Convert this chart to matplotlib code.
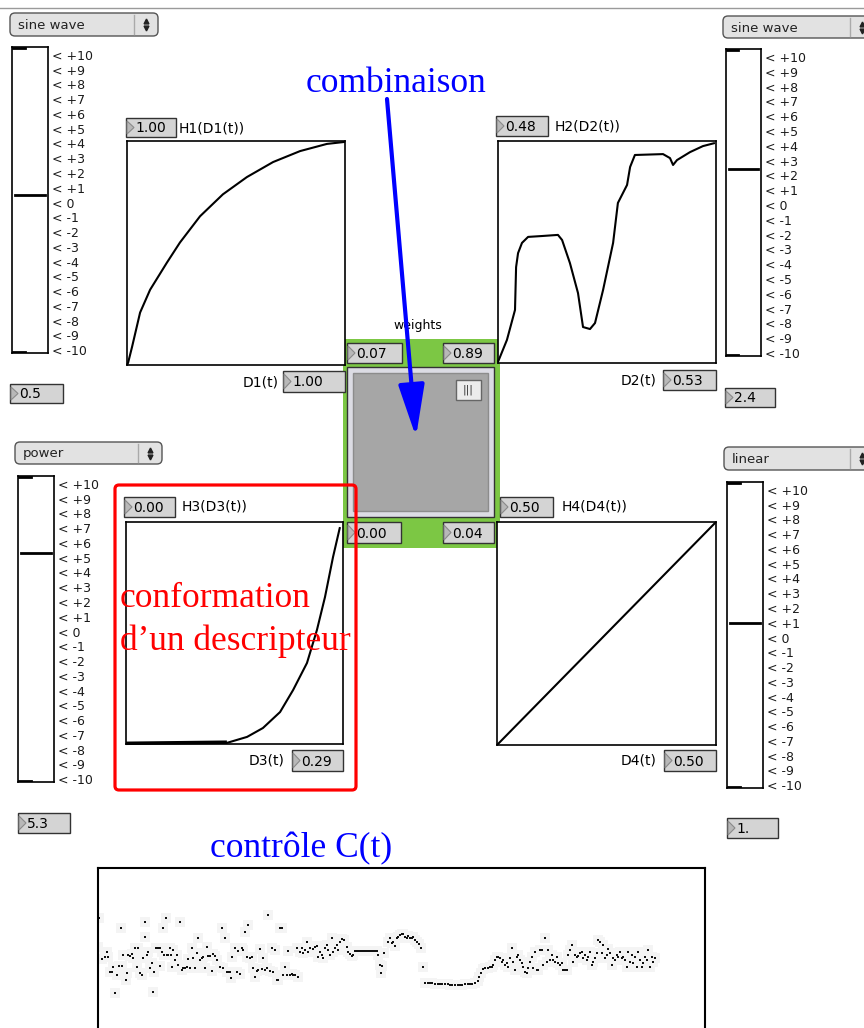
import matplotlib
matplotlib.use("Agg")
import matplotlib.pyplot as plt
from matplotlib.patches import Rectangle, FancyBboxPatch, Polygon

# ---- data ----
# transfer curves H_i(D_i(t)), both axes 0..1
h1_x = [0.0, 0.005, 0.023, 0.06, 0.106, 0.183, 0.243, 0.335, 0.44, 0.55, 0.67, 0.794, 0.917, 1.0]
h1_y = [0.0, 0.01, 0.08, 0.234, 0.336, 0.457, 0.547, 0.664, 0.762, 0.839, 0.906, 0.955, 0.987, 0.996]

h2_x = [0.0, 0.041, 0.078, 0.083, 0.092, 0.110, 0.138, 0.202, 0.275, 0.294, 0.330, 0.367, 0.390,
        0.422, 0.445, 0.482, 0.528, 0.550, 0.592, 0.606, 0.628, 0.757, 0.789, 0.803, 0.821,
        0.881, 0.940, 0.995]
h2_y = [0.005, 0.104, 0.239, 0.432, 0.495, 0.541, 0.568, 0.572, 0.577, 0.554, 0.450, 0.315, 0.162,
        0.153, 0.180, 0.329, 0.541, 0.721, 0.802, 0.883, 0.937, 0.941, 0.923, 0.892, 0.914,
        0.950, 0.977, 0.991]

h3_x = [0.0, 0.465, 0.558, 0.631, 0.710, 0.770, 0.834, 0.880, 0.917, 0.954, 0.986]
h3_y = [0.0, 0.005, 0.032, 0.072, 0.144, 0.243, 0.365, 0.514, 0.662, 0.842, 0.977]

h4_x = [0.0, 1.0]
h4_y = [0.0, 1.0]

# slider settings and numbers shown
slider_values = [0.5, 2.4, 5.3, 1.0]
slider_texts = ["0.5", "2.4", "5.3", "1."]
menu_texts = ["sine wave", "sine wave", "power", "linear"]
levels = list(range(10, -11, -1))
level_labels = ["< +%d" % v if v > 0 else "< %d" % v for v in levels]

h_values = ["1.00", "0.48", "0.00", "0.50"]
d_values = ["1.00", "0.53", "0.29", "0.50"]
h_names = ["H1(D1(t))", "H2(D2(t))", "H3(D3(t))", "H4(D4(t))"]
d_names = ["D1(t)", "D2(t)", "D3(t)", "D4(t)"]
weights = ["0.07", "0.89", "0.00", "0.04"]

# control signal C(t): frame index, level
ct_t = [1, 0, 4, 7, 9, 10, 12, 14, 15, 17, 19, 21, 23, 24, 25, 28, 29, 30, 32, 34, 35, 37, 39, 40,
        42, 44, 45, 47, 47, 49, 50, 52, 54, 55, 56, 58, 60, 62, 62, 64, 65, 66, 68, 69, 70, 72,
        73, 74, 75, 77, 79, 80, 82, 84, 85, 87, 89, 90, 92, 94, 95, 97, 99, 100, 102, 104, 105,
        107, 109, 110, 112, 114, 115, 117, 119, 122, 124, 125, 127, 129, 130, 132, 133, 134, 137,
        139, 140, 142, 144, 145, 147, 149, 150, 152, 154, 155, 157, 159, 160, 162, 164, 165, 167,
        169, 170, 172, 174, 175, 177, 179, 180, 182, 184, 185, 187, 189, 190, 192, 194, 195, 197,
        199, 200,
        202, 204, 205, 207, 209, 210, 212, 215, 217, 219, 220, 222, 224, 225, 227, 229, 230, 232,
        234, 235, 237, 239, 240, 242, 244, 246, 249, 250, 252, 254, 255,
        257, 259, 261, 263, 265, 267, 269, 271, 273, 275, 277, 279,
        280, 282, 283, 284, 286, 290, 292, 294, 295, 297, 299, 300, 302, 304, 305, 307, 309, 310,
        312, 314, 315, 317, 319, 321, 323, 325,
        327, 330, 332, 334, 337, 340, 342, 344, 347, 350, 352, 354, 357, 360, 362, 364, 367, 370,
        372, 374, 377, 380, 381, 383, 385, 387, 390, 392, 394, 395, 397, 399,
        400, 402, 404, 405, 407, 409, 410, 412, 414, 415, 417, 419, 420, 422, 424, 425, 427, 429,
        430, 432, 434, 435, 437, 439, 440, 442, 444, 445, 447, 449, 450, 452, 454, 455, 457, 459,
        460, 462, 464, 465, 467, 469, 470, 472, 474, 475, 477, 479, 480, 482, 484, 485, 487, 489,
        490, 492, 494, 495, 497, 499, 500, 502, 504, 505, 507, 509, 510, 512, 514, 515, 517, 519,
        520, 522, 524, 525, 527, 529, 530, 532, 534, 535, 537, 539, 540, 542, 544, 545, 547, 549,
        550, 552, 554, 555, 557]
ct_c = [110, 81, 69, 71, 76, 71, 56, 56, 61, 35, 53, 62, 100, 62, 73, 48, 55, 73, 72, 74, 70, 80,
        61, 80, 55, 53, 70, 91, 106, 73, 76, 60, 65, 36, 56, 80, 80, 80, 62, 76, 100, 73, 110, 73,
        73, 80, 73, 61, 78, 68, 73, 63, 106, 58, 60, 60, 61, 69, 60, 80, 70, 60, 75, 90, 68, 70,
        71, 60, 81, 72, 72, 57, 74, 72, 68, 61, 100, 60, 90, 56, 56, 56, 50, 71, 80, 56, 77, 54,
        80, 78, 96, 71, 103, 70, 71, 60, 51, 57, 58, 79, 59, 70, 58, 60, 113, 57, 80, 56, 78, 48,
        48, 100, 100, 53, 61, 53, 77, 53, 54, 53, 53, 80, 51,
        76, 80, 75, 78, 86, 76, 80, 79, 81, 82, 71, 76, 73, 70, 80, 83, 78, 73, 90, 76, 80, 83,
        78, 86, 89, 88, 81, 76, 74, 72, 73,
        77, 77, 77, 77, 77, 77, 77, 77, 77, 77, 77, 77,
        73, 63, 55, 62, 75, 86, 90, 85, 86, 82, 90, 91, 93, 94, 94, 91, 90, 92, 90, 90, 91, 88,
        86, 84, 80, 61,
        45, 45, 45, 45, 44, 44, 44, 44, 44, 44, 43, 43, 43, 43, 43, 43, 44, 44, 44, 44, 45, 47,
        51, 55, 59, 60, 60, 61, 61, 63, 68, 71,
        71, 70, 66, 68, 63, 65, 61, 70, 80, 66, 58, 71, 73, 68, 65, 61, 56, 55, 60, 66, 71, 60,
        76, 58, 58, 78, 78, 63, 90, 66, 78, 68, 73, 68, 66, 71, 65, 63, 65, 58, 58, 58, 73, 78,
        83, 66, 73, 71, 72, 75, 76, 70, 73, 68, 71, 76, 63, 66, 70, 75, 88, 86, 75, 83, 70, 73,
        79, 75, 63, 70, 68, 73, 71, 76, 70, 71, 68, 61, 76, 66, 73, 65, 71, 61, 76, 68, 61, 65,
        71, 68, 78, 61, 71, 66, 70]

# ---- figure in screen pixels ----
W, H = 864, 1028
fig = plt.figure(figsize=(W / 100, H / 100), dpi=100)
fig.patch.set_facecolor("white")


def px_ax(x0, y0, x1, y1):
    return fig.add_axes([x0 / W, 1 - y1 / H, (x1 - x0) / W, (y1 - y0) / H])


bg = px_ax(0, 0, W, H)
bg.set_xlim(0, W)
bg.set_ylim(H, 0)
bg.axis("off")

bg.plot([0, W], [8, 8], color="#9a9a9a", lw=1)


def numbox(x0, y0, x1, y1, txt):
    bg.add_patch(Rectangle((x0, y0), x1 - x0, y1 - y0, fc="#d4d4d4", ec="#333333", lw=1, zorder=3))
    ym = (y0 + y1) / 2
    bg.add_patch(Polygon([(x0 + 1, y0 + 3), (x0 + 8, ym), (x0 + 1, y1 - 3)], closed=True,
                         fc="#b8b8b8", ec="#8a8a8a", lw=0.8, zorder=4))
    bg.text(x0 + 9, ym + 1, txt, ha="left", va="center", fontsize=10, zorder=5)


def menu(x0, y0, x1, y1, txt):
    bg.add_patch(FancyBboxPatch((x0, y0), x1 - x0, y1 - y0,
                                boxstyle="round,pad=0,rounding_size=5",
                                fc="#e2e2e2", ec="#555555", lw=1))
    ym = (y0 + y1) / 2
    bg.plot([x1 - 24, x1 - 24], [y0 + 2, y1 - 2], color="#aaaaaa", lw=1)
    bg.plot([x1 - 12], [ym - 3.5], marker="^", ms=3.5, color="#222222")
    bg.plot([x1 - 12], [ym + 3.5], marker="v", ms=3.5, color="#222222")
    bg.text(x0 + 8, ym + 1, txt, ha="left", va="center", fontsize=9.5, color="#222222")


def slider(x0, y0, x1, y1, val):
    ax = px_ax(x0, y0, x1, y1)
    ax.set_xlim(0, 1)
    ax.set_ylim(-10.2, 10.54)
    ax.axhline(val, xmin=0.08, xmax=0.92, color="black", lw=2)
    ax.plot([0.04, 0.35], [10.5, 10.5], color="black", lw=2)
    ax.plot([0.04, 0.35], [-10.16, -10.16], color="black", lw=2)
    ax.set_xticks([])
    ax.yaxis.tick_right()
    ax.set_yticks(levels)
    ax.set_yticklabels(level_labels, fontsize=9, color="#1a1a1a")
    ax.tick_params(axis="y", length=0, pad=3)
    for s in ax.spines.values():
        s.set_linewidth(1.2)
    return ax


def curve_box(x0, y0, x1, y1, xs, ys):
    ax = px_ax(x0, y0, x1, y1)
    ax.set_xlim(0, 1)
    ax.set_ylim(0, 1)
    ax.plot(xs, ys, color="black", lw=1.5, solid_capstyle="butt", clip_on=False)
    ax.set_xticks([])
    ax.set_yticks([])
    for s in ax.spines.values():
        s.set_linewidth(1.2)
    return ax


# menus
menu(10, 13, 158, 36, menu_texts[0])
menu(723, 16, 874, 38, menu_texts[1])
menu(15, 442, 162, 464, menu_texts[2])
menu(724, 447, 874, 470, menu_texts[3])

# sliders
slider(12, 47, 48, 353, slider_values[0])
slider(726, 49, 761, 356, slider_values[1])
slider(18, 476, 54, 782, slider_values[2])
slider(727, 482, 763, 788, slider_values[3])

numbox(10, 384, 63, 403, slider_texts[0])
numbox(725, 388, 775, 407, slider_texts[1])
numbox(18, 813, 70, 833, slider_texts[2])
numbox(727, 818, 778, 838, slider_texts[3])

# weights panel
bg.add_patch(Rectangle((343, 339), 157, 209, fc="#7cc744", ec="none"))
bg.text(418, 326, "weights", ha="center", va="center", fontsize=9)
bg.add_patch(Rectangle((347, 367), 147, 150, fc="#dcdce4", ec="#333333", lw=1))
bg.add_patch(Rectangle((353, 373), 135, 138, fc="#a6a6a6", ec="#8c8c8c", lw=1))
bg.add_patch(Rectangle((456, 380), 25, 20, fc="#ececec", ec="#666666", lw=1))
bg.text(468.5, 390, "|||", ha="center", va="center", fontsize=8, color="#333333")
numbox(347, 343, 402, 363, weights[0])
numbox(443, 343, 494, 363, weights[1])
numbox(347, 522, 401, 543, weights[2])
numbox(443, 522, 494, 543, weights[3])

# the four transfer boxes
curve_box(127, 141, 345, 365, h1_x, h1_y)
curve_box(498, 141, 716, 363, h2_x, h2_y)
ax3 = curve_box(126, 522, 343, 744, h3_x, h3_y)
ax3.plot(h3_x[:2], h3_y[:2], color="black", lw=3.5, solid_capstyle="butt")
curve_box(497, 522, 716, 745, h4_x, h4_y)

numbox(126, 118, 176, 137, h_values[0])
bg.text(179, 128, h_names[0], ha="left", va="center", fontsize=10)
numbox(283, 371, 345, 392, d_values[0])
bg.text(279, 382, d_names[0], ha="right", va="center", fontsize=10)

numbox(496, 116, 548, 136, h_values[1])
bg.text(555, 127, h_names[1], ha="left", va="center", fontsize=10)
numbox(663, 370, 716, 390, d_values[1])
bg.text(656, 381, d_names[1], ha="right", va="center", fontsize=10)

numbox(124, 497, 175, 517, h_values[2])
bg.text(182, 506, h_names[2], ha="left", va="center", fontsize=10)
numbox(292, 750, 343, 771, d_values[2])
bg.text(285, 761, d_names[2], ha="right", va="center", fontsize=10)

numbox(500, 497, 553, 517, h_values[3])
bg.text(562, 506, h_names[3], ha="left", va="center", fontsize=10)
numbox(664, 750, 716, 771, d_values[3])
bg.text(656, 761, d_names[3], ha="right", va="center", fontsize=10)

# control signal C(t)
axc = px_ax(98, 868, 705, 1040)
axc.set_xlim(0, 607)
axc.set_ylim(-12, 160)
axc.scatter(ct_t, ct_c, s=45, marker="s", color="#f4f4f4", linewidths=0)
axc.scatter(ct_t, ct_c, s=3, marker="s", color="#111111", linewidths=0)
axc.set_xticks([])
axc.set_yticks([])
for s in axc.spines.values():
    s.set_linewidth(1.5)

# annotations on top
top = px_ax(0, 0, W, H)
top.set_xlim(0, W)
top.set_ylim(H, 0)
top.axis("off")
top.patch.set_alpha(0)

serif = "Liberation Serif"
top.text(306, 92, "combinaison", color="blue", fontsize=25.5, family=serif, va="baseline")
top.text(120, 607, "conformation", color="red", fontsize=25.5, family=serif, va="baseline")
top.text(120, 650, "d\u2019un descripteur", color="red", fontsize=25.5, family=serif, va="baseline")
top.text(210, 857, "contr\u00f4le C(t)", color="blue", fontsize=25.5, family=serif, va="baseline")

top.add_patch(FancyBboxPatch((115, 485), 241, 305, boxstyle="round,pad=0,rounding_size=4",
                             fc="none", ec="red", lw=2.3))
top.annotate("", xy=(416, 437), xytext=(387, 99),
             arrowprops=dict(arrowstyle="-|>,head_length=2.0,head_width=0.5",
                             mutation_scale=16, color="blue", lw=3, shrinkA=0, shrinkB=0))

fig.savefig("out.png", dpi=100)
